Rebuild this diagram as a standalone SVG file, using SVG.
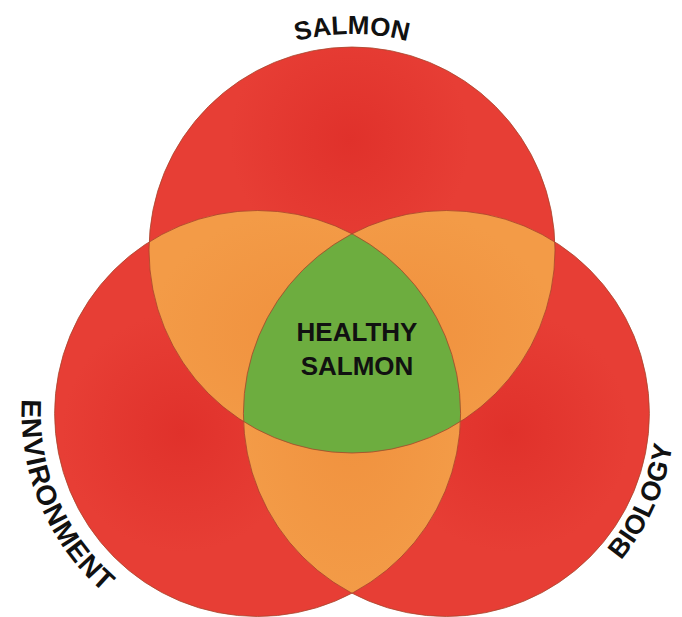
<svg xmlns="http://www.w3.org/2000/svg" width="682" height="617" viewBox="0 0 682 617">
  <defs>
    <radialGradient id="gT" gradientUnits="userSpaceOnUse" cx="350" cy="140" r="120">
      <stop offset="0" stop-color="#E0312B"/>
      <stop offset="1" stop-color="#E73E35"/>
    </radialGradient>
    <radialGradient id="gL" gradientUnits="userSpaceOnUse" cx="182" cy="432" r="120">
      <stop offset="0" stop-color="#E0312B"/>
      <stop offset="1" stop-color="#E73E35"/>
    </radialGradient>
    <radialGradient id="gR" gradientUnits="userSpaceOnUse" cx="510" cy="432" r="120">
      <stop offset="0" stop-color="#E0312B"/>
      <stop offset="1" stop-color="#E73E35"/>
    </radialGradient>
    <radialGradient id="gO" cx="0.5" cy="0.5" r="0.5">
      <stop offset="0" stop-color="#F0913E"/>
      <stop offset="1" stop-color="#F39B47"/>
    </radialGradient>
    <path id="pSalmon" d="M136,250 A216,216 0 0 1 568,250"/>
    <path id="pEnv" d="M69.13,271.47 A236,236 0 0 0 228.84,647.74"/>
    <path id="pBio" d="M470.23,640.25 A228,228 0 0 0 630.86,279.49"/>
  </defs>
  <style>
    .lens { fill: url(#gO); }
    .core { fill: #6DAD3F; }
    .edge { fill: none; stroke: #A8452C; stroke-width: 1; stroke-opacity: 0.8; }
    .label { font-family: "Liberation Sans", Arial, sans-serif; font-weight: bold; fill: #111111; }
  </style>

  <g id="circle-salmon">
    <circle cx="352" cy="250" r="203" fill="url(#gT)"/>
  </g>
  <g id="circle-environment">
    <circle cx="257.603" cy="413.5" r="203" fill="url(#gL)"/>
  </g>
  <g id="circle-biology">
    <circle cx="446.397" cy="413.5" r="203" fill="url(#gR)"/>
  </g>

  <g id="lens-salmon-environment">
    <path class="lens" d="M149.16,241.89 A203,203 0 0 1 460.44,421.61 A203,203 0 0 1 149.16,241.89 Z"/>
  </g>
  <g id="lens-salmon-biology">
    <path class="lens" d="M554.84,241.89 A203,203 0 0 0 243.56,421.61 A203,203 0 0 0 554.84,241.89 Z"/>
  </g>
  <g id="lens-environment-biology">
    <path class="lens" d="M352,233.78 A203,203 0 0 1 352,593.22 A203,203 0 0 1 352,233.78 Z"/>
  </g>

  <g id="healthy-salmon">
    <path class="core" d="M352,233.78 A203,203 0 0 1 460.44,421.61 A203,203 0 0 1 243.56,421.61 A203,203 0 0 1 352,233.78 Z"/>
    <text class="label" font-size="26" text-anchor="middle" x="357" y="341">HEALTHY</text>
    <text class="label" font-size="26" text-anchor="middle" x="357" y="375">SALMON</text>
  </g>

  <g id="outlines">
    <circle class="edge" cx="352" cy="250" r="203"/>
    <circle class="edge" cx="257.603" cy="413.5" r="203"/>
    <circle class="edge" cx="446.397" cy="413.5" r="203"/>
  </g>

  <g id="label-salmon">
    <text class="label" font-size="26"><textPath href="#pSalmon" startOffset="50%" text-anchor="middle">SALMON</textPath></text>
  </g>
  <g id="label-environment">
    <text class="label" font-size="28" letter-spacing="1"><textPath href="#pEnv" startOffset="50%" text-anchor="middle">ENVIRONMENT</textPath></text>
  </g>
  <g id="label-biology">
    <text class="label" font-size="27" letter-spacing="0.5"><textPath href="#pBio" startOffset="50%" text-anchor="middle">BIOLOGY</textPath></text>
  </g>
</svg>
